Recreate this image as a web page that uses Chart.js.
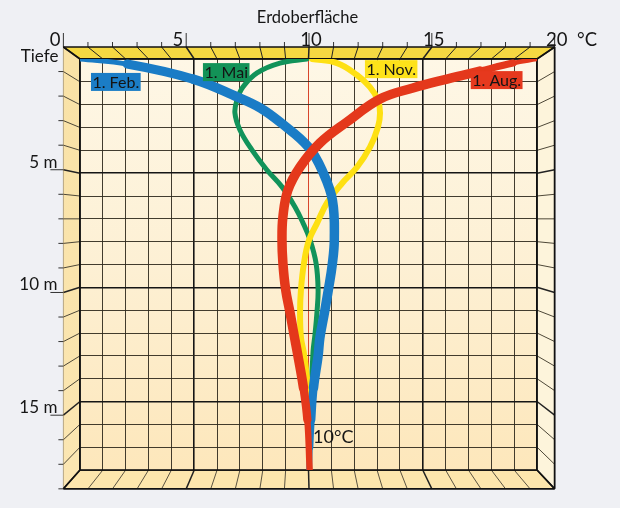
<!DOCTYPE html>
<html>
<head>
<meta charset="utf-8">
<script src="https://cdn.jsdelivr.net/npm/chart.js@4"></script>
<style>
  html, body { margin: 0; padding: 0; background: #eff0f4; }
  #wrap { width: 620px; height: 508px; }
</style>
</head>
<body>
<div id="wrap"><canvas id="c" width="620" height="508"></canvas></div>
<script>
// Tiefe (m) und Temperatur (°C) je Jahreszeit
let tiefeFeb = [0, 0.22, 0.88, 1.67, 2.15, 2.8, 3.86, 5.0, 6.2, 7.9, 9.0, 10.1, 11.1, 12.2, 13.0, 14.4, 15.8, 17, 18];
let tempFeb  = [0, 2.06, 4.95, 6.9, 7.9, 8.8, 10.0, 10.65, 11.05, 11.13, 11.04, 10.87, 10.7, 10.5, 10.42, 10.22, 10.12, 10.06, 10.03];

let tiefeMai = [0, 0.18, 0.61, 1.23, 1.8, 2.37, 3.11, 3.99, 4.86, 5.6, 6.48, 7.18, 7.93, 8.94, 10.1, 11.1, 12.1, 12.8, 14.9, 18];
let tempMai  = [9.93, 8.75, 7.75, 7.13, 6.87, 6.78, 7.0, 7.53, 8.18, 8.84, 9.41, 9.76, 10.07, 10.33, 10.42, 10.37, 10.28, 10.2, 10.11, 10.06];

let tiefeNov = [0, 0.18, 0.7, 1.23, 1.8, 2.37, 2.98, 3.86, 4.74, 5.44, 6.3, 7.2, 7.94, 8.95, 10.1, 11.1, 12.2, 12.9, 14.5, 16, 18];
let tempNov  = [10.15, 11.25, 12.12, 12.69, 13.04, 13.13, 13.04, 12.69, 12.12, 11.47, 10.81, 10.37, 10.02, 9.8, 9.67, 9.63, 9.67, 9.8, 9.98, 10.02, 10.05];

let tiefeAug = [0, 0.18, 0.53, 0.88, 1.27, 1.75, 2.76, 3.68, 4.73, 5.74, 6.92, 7.93, 8.94, 10.1, 11.1, 12.1, 12.9, 14.4, 15.8, 18];
let tempAug  = [20, 18.95, 17.5, 16.06, 14.57, 13.13, 11.68, 10.5, 9.63, 9.1, 8.88, 8.84, 8.88, 9.0, 9.19, 9.37, 9.52, 9.78, 9.95, 10.05];

let tempTicks = [0, 5, 10, 15, 20];
let tiefeTicks = [5, 10, 15];

const SCHRIFT = "Lato, 'Open Sans', sans-serif";

function punkte(tiefe, temp) {
  return tiefe.map((d, i) => ({ x: temp[i], y: d }));
}

// Linienbreite: oben spitz (Feb/Aug), unten schmaler
function breite(basis, spitze) {
  return ctx => {
    let d = (ctx.p0.parsed.y + ctx.p1.parsed.y) / 2;
    let w = basis;
    if (spitze && d < 0.6) w = basis * (0.4 + 0.6 * d / 0.6);
    if (d > 14) w = basis * (1 - 0.45 * (d - 14) / 4);
    return w;
  };
}

function linie(label, tiefe, temp, farbe, basis, spitze, order) {
  return {
    label: label,
    data: punkte(tiefe, temp),
    borderColor: farbe,
    borderWidth: basis,
    borderCapStyle: 'round',
    borderJoinStyle: 'round',
    pointRadius: 0,
    tension: 0.4,
    fill: false,
    clip: 0,
    order: order,
    segment: { borderWidth: breite(basis, spitze) }
  };
}

// Perspektive: Vorderkante aus der Rückwand berechnen
const K = 1.075;
function hinten(chart, x, y) {
  return [chart.scales.x.getPixelForValue(x), chart.scales.y.getPixelForValue(y)];
}
function vorne(chart, x, y) {
  let b = hinten(chart, x, y);
  let v = hinten(chart, 9.7, 7.0);
  return [v[0] + (b[0] - v[0]) * K, v[1] + (b[1] - v[1]) * K];
}
function flaeche(ctx, pts, fill) {
  ctx.beginPath();
  ctx.moveTo(pts[0][0], pts[0][1]);
  for (let i = 1; i < pts.length; i++) ctx.lineTo(pts[i][0], pts[i][1]);
  ctx.closePath();
  ctx.fillStyle = fill;
  ctx.fill();
}
function strich(ctx, a, b, farbe, w) {
  ctx.beginPath();
  ctx.moveTo(a[0], a[1]);
  ctx.lineTo(b[0], b[1]);
  ctx.strokeStyle = farbe;
  ctx.lineWidth = w;
  ctx.stroke();
}

const kasten = {
  id: 'kasten',
  beforeDraw(chart) {
    const ctx = chart.ctx;
    const a = chart.chartArea;
    const xMax = 20, yMax = 18;
    ctx.save();
    // Rückwand
    let g = ctx.createLinearGradient(0, a.top, 0, a.bottom);
    g.addColorStop(0, '#fef7e6');
    g.addColorStop(0.5, '#fdf0d4');
    g.addColorStop(1, '#fde7bb');
    ctx.fillStyle = g;
    ctx.fillRect(a.left, a.top, a.right - a.left, a.bottom - a.top);
    // Oberfläche
    flaeche(ctx, [vorne(chart, 0, 0), vorne(chart, xMax, 0), hinten(chart, xMax, 0), hinten(chart, 0, 0)], '#f5d842');
    // linke Wand
    let gl = ctx.createLinearGradient(0, a.top, 0, a.bottom);
    gl.addColorStop(0, '#f9e2a6');
    gl.addColorStop(1, '#fbe6b2');
    flaeche(ctx, [vorne(chart, 0, 0), hinten(chart, 0, 0), hinten(chart, 0, yMax), vorne(chart, 0, yMax)], gl);
    // rechte Wand
    flaeche(ctx, [hinten(chart, xMax, 0), vorne(chart, xMax, 0), vorne(chart, xMax, yMax), hinten(chart, xMax, yMax)], '#fdf4db');
    // Boden
    flaeche(ctx, [hinten(chart, 0, yMax), hinten(chart, xMax, yMax), vorne(chart, xMax, yMax), vorne(chart, 0, yMax)], '#fde6ad');

    ctx.lineCap = 'butt';
    for (let t = 0; t <= xMax; t++) {
      let gross = t % 5 === 0;
      strich(ctx, hinten(chart, t, 0), vorne(chart, t, 0), '#222', gross ? 1.5 : 1);
      strich(ctx, hinten(chart, t, yMax), vorne(chart, t, yMax), gross ? '#222' : '#5c5442', gross ? 1.5 : 1);
      // Striche über der Vorderkante
      let p = vorne(chart, t, 0);
      strich(ctx, p, [p[0], p[1] - (gross ? 14 : 5)], '#333', 1);
    }
    for (let d = 1; d <= yMax; d++) {
      let gross = d % 5 === 0;
      strich(ctx, hinten(chart, 0, d), vorne(chart, 0, d), gross ? '#222' : '#4e4838', gross ? 1.5 : 1);
      strich(ctx, hinten(chart, xMax, d), vorne(chart, xMax, d), gross ? '#222' : '#4e4838', gross ? 1.5 : 1);
      let p = vorne(chart, 0, d);
      strich(ctx, p, [p[0] - (gross ? 13 : 5), p[1]], '#333', 1);
    }
    // Kanten
    strich(ctx, vorne(chart, 0, 0), vorne(chart, xMax, 0), '#111', 1.6);
    strich(ctx, vorne(chart, 0, yMax), vorne(chart, xMax, yMax), '#111', 1.8);
    strich(ctx, vorne(chart, xMax, 0), vorne(chart, xMax, yMax), '#111', 1.8);
    strich(ctx, vorne(chart, 0, 0), vorne(chart, 0, yMax), 'rgba(120,100,60,0.5)', 1);
    strich(ctx, hinten(chart, 0, 0), vorne(chart, 0, 0), '#111', 1.6);
    strich(ctx, hinten(chart, xMax, 0), vorne(chart, xMax, 0), '#111', 1.6);
    strich(ctx, hinten(chart, 0, yMax), vorne(chart, 0, yMax), '#111', 1.6);
    strich(ctx, hinten(chart, xMax, yMax), vorne(chart, xMax, yMax), '#111', 1.6);
    ctx.restore();
  },
  beforeDatasetsDraw(chart) {
    const ctx = chart.ctx;
    const a = chart.chartArea;
    ctx.save();
    ctx.strokeStyle = '#111';
    ctx.lineWidth = 1.6;
    ctx.strokeRect(a.left, a.top, a.right - a.left, a.bottom - a.top);
    ctx.restore();
  },
  afterDatasetsDraw(chart) {
    const ctx = chart.ctx;
    ctx.save();
    ctx.font = '16px ' + SCHRIFT;
    ctx.textBaseline = 'middle';
    ctx.textAlign = 'left';
    let schilder = [
      ['1. Feb.', 0.48, 0.61, '#1b7dc6'],
      ['1. Mai', 5.38, 0.18, '#139257'],
      ['1. Nov.', 12.47, 0.05, '#fde21a'],
      ['1. Aug.', 17.1, 0.53, '#e6391e']
    ];
    schilder.forEach(s => {
      let p = hinten(chart, s[1], s[2]);
      let w = ctx.measureText(s[0]).width + 3;
      ctx.fillStyle = s[3];
      ctx.fillRect(p[0], p[1], w, 18);
      ctx.fillStyle = '#141414';
      ctx.fillText(s[0], p[0] + 1.5, p[1] + 10);
    });
    // 10 °C
    ctx.font = '18px ' + SCHRIFT;
    let p = hinten(chart, 10.2, 16.55);
    ctx.fillStyle = '#161616';
    ctx.fillText('10°C', p[0], p[1]);
    ctx.restore();
  },
  afterDraw(chart) {
    const ctx = chart.ctx;
    ctx.save();
    ctx.fillStyle = '#161616';
    ctx.font = '16.5px ' + SCHRIFT;
    ctx.textAlign = 'center';
    ctx.textBaseline = 'alphabetic';
    ctx.fillText('Erdoberfläche', chart.scales.x.getPixelForValue(10) - 1, 23);
    ctx.font = '18.5px ' + SCHRIFT;
    tempTicks.forEach(t => {
      let p = vorne(chart, t, 0);
      if (t < 10) {
        ctx.textAlign = 'right';
        ctx.fillText(String(t), p[0] - 3, p[1] - 1);
      } else {
        ctx.textAlign = 'center';
        ctx.fillText(String(t), p[0] + 2, p[1] - 1);
      }
    });
    ctx.textAlign = 'left';
    ctx.fillText('°C', 577, vorne(chart, 20, 0)[1] - 1);
    ctx.font = '17px ' + SCHRIFT;
    ctx.textAlign = 'right';
    ctx.textBaseline = 'top';
    let t0 = vorne(chart, 0, 0);
    ctx.fillText('Tiefe', t0[0] - 5, t0[1] + 1);
    ctx.textBaseline = 'alphabetic';
    tiefeTicks.forEach(d => {
      let q = vorne(chart, 0, d);
      ctx.fillText(d + ' m', q[0] - 6, q[1] - 2);
    });
    ctx.restore();
  }
};

function gitterFarbe(ctx, mitRot) {
  let v = ctx.tick ? ctx.tick.value : 0;
  if (mitRot && v === 10) return '#d8452c';
  if (v % 5 === 0) return '#151515';
  return 'rgba(45,40,28,0.9)';
}
function gitterBreite(ctx) {
  let v = ctx.tick ? ctx.tick.value : 0;
  if (v === 10 && ctx.scale.axis === 'x') return 1;
  return v % 5 === 0 ? 1.6 : 1;
}

new Chart(document.getElementById('c'), {
  type: 'line',
  data: {
    datasets: [
      linie('1. Aug.', tiefeAug, tempAug, '#e4381b', 9.5, true, 0),
      linie('1. Feb.', tiefeFeb, tempFeb, '#1a7cc6', 9.5, true, 1),
      linie('1. Nov.', tiefeNov, tempNov, '#fee012', 6, false, 2),
      linie('1. Mai', tiefeMai, tempMai, '#11935a', 5, false, 3)
    ]
  },
  options: {
    responsive: false,
    animation: false,
    layout: { padding: { left: 80, top: 59, right: 83, bottom: 38 } },
    plugins: { legend: { display: false }, tooltip: { enabled: false } },
    scales: {
      x: {
        type: 'linear', position: 'top', min: 0, max: 20,
        ticks: { display: false, stepSize: 1, maxTicksLimit: 50 },
        grid: { drawTicks: false, color: c => gitterFarbe(c, true), lineWidth: gitterBreite },
        border: { display: false }
      },
      y: {
        type: 'linear', reverse: true, min: 0, max: 18,
        ticks: { display: false, stepSize: 1, maxTicksLimit: 50 },
        grid: { drawTicks: false, color: c => gitterFarbe(c, false), lineWidth: gitterBreite },
        border: { display: false }
      }
    }
  },
  plugins: [kasten]
});
</script>
</body>
</html>
